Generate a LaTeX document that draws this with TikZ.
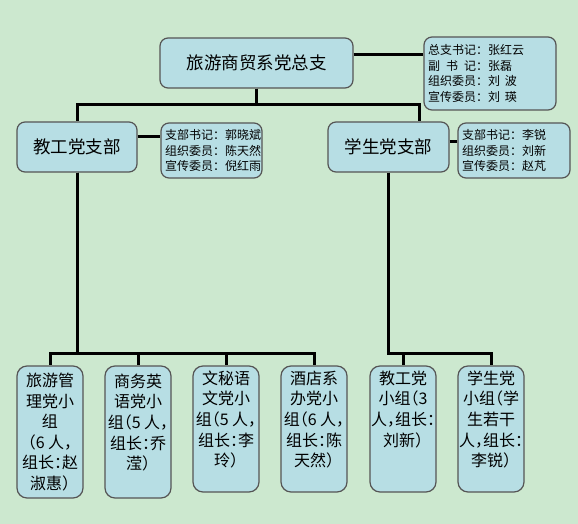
\documentclass[tikz,border=0pt]{standalone}
\usepackage{fontspec}
\newfontfamily\cjk{Noto Sans CJK SC}
\newfontfamily\cjkh[RawFeature=+halt]{Noto Sans CJK SC}
\definecolor{bgc}{RGB}{204,232,207}
\definecolor{boxc}{RGB}{183,222,228}
\definecolor{edgec}{RGB}{85,85,85}

\begin{document}
\begin{tikzpicture}[
    x=1pt, y=-1pt,
    box/.style={draw=edgec, fill=boxc, line width=1.2pt, rounded corners=8pt},
    head/.style={box, font=\cjk\fontsize{17.5}{20}\selectfont, inner sep=0pt},
    info/.style={box, font=\cjk\fontsize{12}{15.5}\selectfont, align=left,
        inner xsep=4pt, inner ysep=0pt},
    grp/.style={box, rounded corners=10pt, font=\cjkh\fontsize{16}{20.6}\selectfont,
        align=center, minimum width=66pt, inner sep=0pt},
    link/.style={line width=3pt},
]
% Page
\fill[bgc] (0,0) rectangle (578,524);
\useasboundingbox (0,0) rectangle (578,524);

% General branch
\node[head, minimum width=193pt, minimum height=50pt] (zong) at (256.5,63) {旅游商贸系党总支};
\node[info, text width=124pt, minimum height=73pt] (zinfo) at (490,73.5)
    {总支书记：张红云\\副\hspace{0.5em}书\hspace{0.5em}记：张磊\\组织委员：刘\hspace{0.4em}波\\宣传委员：刘\hspace{0.4em}瑛};

% Branches
\node[head, minimum width=120pt, minimum height=50pt] (jiao) at (77,147) {教工党支部};
\node[info, text width=93pt, minimum height=55pt] (jinfo) at (211.5,150.5)
    {支部书记：郭晓斌\\组织委员：陈天然\\宣传委员：倪红雨};
\node[head, minimum width=121pt, minimum height=50pt] (xue) at (388.5,147) {学生党支部};
\node[info, text width=104pt, minimum height=55pt] (xinfo) at (514,150.5)
    {支部书记：李锐\\组织委员：刘新\\宣传委员：赵芃};

% Groups
\node[grp, minimum height=132pt] (g1) at (50,432)
    {旅游管\\理党小\\组\\（6 人，\\组长：赵\\淑惠）};
\node[grp, minimum height=132pt] (g2) at (138,432)
    {商务英\\语党小\\组（5 人，\\组长：乔\\滢）\\\mbox{}};
\node[grp, minimum height=126pt] (g3) at (226,429)
    {文秘语\\文党小\\组（5 人，\\组长：李\\玲）\\\mbox{}};
\node[grp, minimum height=126pt] (g4) at (314,429)
    {酒店系\\办党小\\组（6 人，\\组长：陈\\天然）\\\mbox{}};
\node[grp, minimum height=126pt] (g5) at (403,429)
    {教工党\\小组（3\\人，组长：\\刘新）\\\mbox{}\\\mbox{}};
\node[grp, minimum height=126pt] (g6) at (491,429)
    {学生党\\小组（学\\生若干\\人，组长：\\李锐）\\\mbox{}};

% Connectors
\draw[link] ([yshift=8pt]zong.east) -- ([yshift=8pt]zong.east -| zinfo.west);
\draw[link] ([yshift=10pt]jiao.east) -- ([yshift=10pt]jiao.east -| jinfo.west);
\draw[link] ([yshift=5pt]xue.east) -- ([yshift=5pt]xue.east -| xinfo.west);

\draw[link] (zong.south) -- ++(0,16) -| (jiao.north);
\draw[link] (zong.south) -- ++(0,16) -| ([xshift=31pt]xue.north);
\foreach \g in {g1,g2,g3,g4}
    \draw[link] (jiao.south) -- ++(0,181) -| (\g.north);
\foreach \g in {g5,g6}
    \draw[link] (xue.south) -- ++(0,181) -| (\g.north);
\end{tikzpicture}
\end{document}
